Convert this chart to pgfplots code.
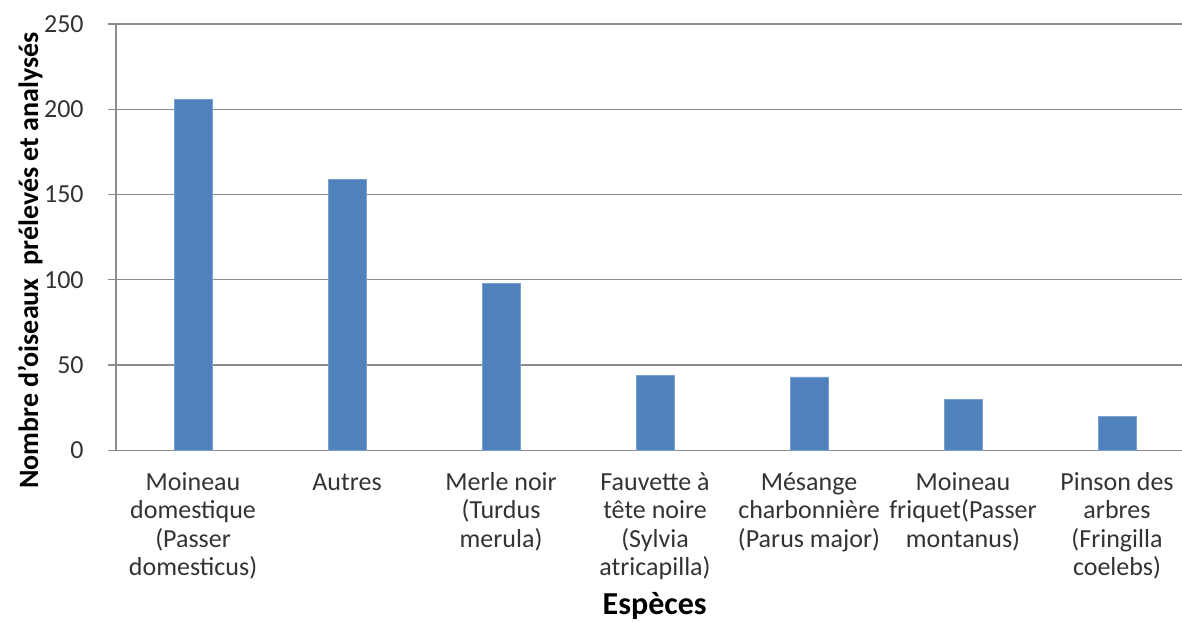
\documentclass[border=0pt]{standalone}
\usepackage{pgfplots}
\pgfplotsset{compat=1.18}
\usepackage{fontspec}
\setmainfont{Carlito}
\definecolor{barblue}{HTML}{4F81BD}
\definecolor{gridgray}{HTML}{8C8C8C}
\begin{document}
\begin{tikzpicture}
\begin{axis}[
  name=ax,
  scale only axis,
  width=538.7pt, height=213pt,
  ybar, bar width=19pt,
  xmin=-0.5, xmax=6.5,
  ymin=0, ymax=250,
  ytick={0,50,100,150,200,250},
  xtick=data,
  xticklabels={
    {\strut Moineau\\domestique\\(Passer\\domesticus)},
    {\strut Autres},
    {\strut Merle noir\\(Turdus\\merula)},
    {\strut Fauvette à\\tête noire\\(Sylvia\\atricapilla)},
    {\strut Mésange\\charbonnière\\(Parus major)},
    {\strut Moineau\\friquet(Passer\\montanus)},
    {\strut Pinson des\\arbres\\(Fringilla\\coelebs)}},
  x tick style={draw=none},
  axis x line=bottom, axis y line=left,
  axis line style={draw=gridgray, line width=0.6pt, -},
  y tick style={draw=gridgray, line width=0.6pt},
  tick align=outside, major tick length=4pt,
  ymajorgrids, grid style={draw=gridgray, line width=0.6pt},
  /pgf/number format/assume math mode=true,
  tick label style={font=\fontsize{13}{14.2}\selectfont, text=black!80},
  xticklabel style={align=center, anchor=north, inner ysep=0pt, yshift=-6pt},
  yticklabel style={anchor=east, inner xsep=0pt, xshift=-12pt},
  xlabel={Espèces},
  ylabel={Nombre d'oiseaux\ \ prélevés et analysés},
  label style={font=\fontsize{14}{16}\selectfont\bfseries},
  xlabel style={font=\fontsize{16}{18}\selectfont\bfseries, at={(axis description cs:0.4997,-0.385)}, anchor=base},
  ylabel style={at={(axis description cs:-0.0797,0.445)}, anchor=center},
]
\addplot[fill=barblue, draw=barblue!75!white, line width=0.4pt] coordinates {
  (0,206) (1,159) (2,98) (3,44) (4,43) (5,30) (6,20)
};
\end{axis}
\pgfresetboundingbox
\path[use as bounding box] ([xshift=-58pt,yshift=-85.5pt]ax.south west) rectangle ([xshift=-6pt,yshift=12pt]ax.north east);
\end{tikzpicture}
\end{document}
